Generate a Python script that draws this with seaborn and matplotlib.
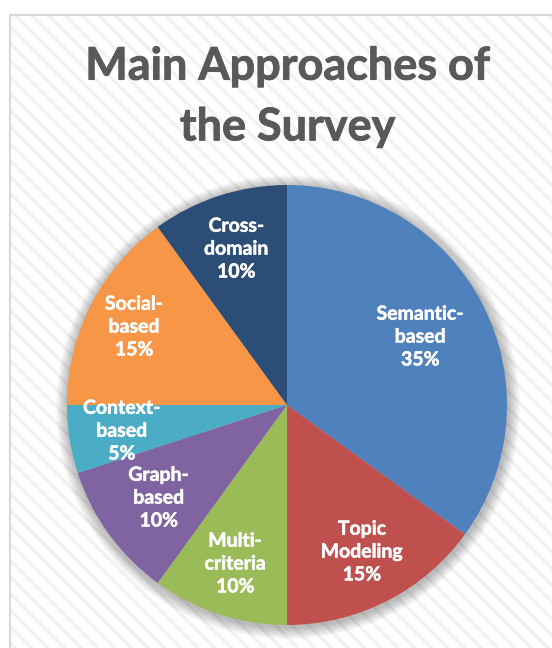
import numpy as np
import matplotlib
matplotlib.use("Agg")
import matplotlib.pyplot as plt
import matplotlib.patheffects as pe
import seaborn as sns
from matplotlib.patches import Rectangle, Circle

categories = ["Semantic-\nbased", "Topic\nModeling", "Multi-\ncriteria", "Graph-\nbased",
              "Context-\nbased", "Social-\nbased", "Cross-\ndomain"]
values = [35, 15, 10, 10, 5, 15, 10]
colors = ["#4F81BD", "#C0504D", "#9BBB59", "#8064A2", "#4BACC6", "#F79646", "#2C4D75"]
label_dist = [0.68, 0.75, 0.76, 0.72, 0.76, 0.78, 0.745]
title = "Main Approaches of\nthe Survey"

sns.set_theme(style="white")
plt.rcParams["font.family"] = ["Lato", "DejaVu Sans"]
plt.rcParams["hatch.linewidth"] = 2.2

W, H = 552, 648
fig = plt.figure(figsize=(W / 100, H / 100), dpi=100)
fig.patch.set_facecolor("white")
ax = fig.add_axes([0, 0, 1, 1])
ax.set_xlim(0, W)
ax.set_ylim(0, H)
ax.set_axis_off()

# chart area background with diagonal stripes
ax.add_patch(Rectangle((9.5, -5), W, H - 14.5 + 5, facecolor="white", edgecolor="#F1F1F1",
                       lw=0, hatch="\\\\", zorder=0))
ax.add_patch(Rectangle((9.5, -5), W, H - 14.5 + 5, facecolor="none", edgecolor="#D9D9D9",
                       lw=1.5, zorder=0.5))

cx, cy, r = 287, H - 405, 220
# soft shadow
for k in range(12, 0, -1):
    ax.add_patch(Circle((cx + 1, cy - 2), r + k, facecolor="#000000", edgecolor="none",
                        alpha=0.022, zorder=1))

wedges, _ = ax.pie(values, colors=colors, startangle=90, counterclock=False,
                   center=(cx, cy), radius=r, frame=True,
                   wedgeprops=dict(linewidth=0, edgecolor="none", zorder=2))
ax.set_xlim(0, W)
ax.set_ylim(0, H)
ax.set_aspect("auto")
ax.set_axis_off()

for w, lab, v, d in zip(wedges, categories, values, label_dist):
    ang = np.deg2rad((w.theta1 + w.theta2) / 2)
    x = cx + d * r * np.cos(ang)
    y = cy + d * r * np.sin(ang)
    ax.text(x, y, f"{lab}\n{v}%", ha="center", va="center", multialignment="center",
            color="white", fontsize=14, fontweight="bold", linespacing=1.42, zorder=5,
            path_effects=[pe.withStroke(linewidth=0.35, foreground="white")])

ax.text(287.5, H - 97, title, ha="center", va="center", multialignment="center",
        color="#595959", fontsize=32.4, fontweight="bold", linespacing=1.55, zorder=5,
        path_effects=[pe.withStroke(linewidth=0.6, foreground="#595959")])

fig.savefig("out.png", dpi=100, facecolor="white")
